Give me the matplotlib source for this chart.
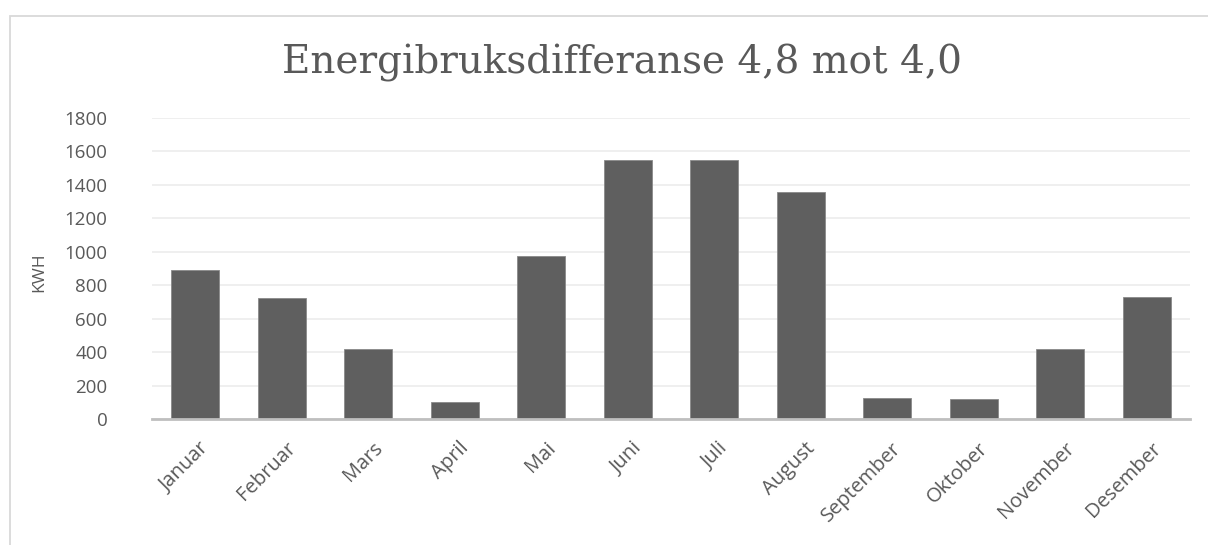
import matplotlib
matplotlib.use("Agg")
import matplotlib.pyplot as plt
from matplotlib.patches import Rectangle
from matplotlib.transforms import ScaledTranslation

months = ["Januar", "Februar", "Mars", "April", "Mai", "Juni", "Juli",
          "August", "September", "Oktober", "November", "Desember"]
kwh = [891, 724, 417, 102, 975, 1551, 1549, 1360, 124, 120, 417, 731]
yticks = [0, 200, 400, 600, 800, 1000, 1200, 1400, 1600, 1800]

W, H = 1208, 545
fig = plt.figure(figsize=(W / 100, H / 100), dpi=100)
fig.patch.set_facecolor("white")

# chart border
fig.patches.append(Rectangle((10 / W, -0.1), 1.2, (H - 16) / H + 0.1,
                             transform=fig.transFigure, fill=False,
                             edgecolor="#d9d9d9", linewidth=1.3))

left, right = 152 / W, 1190 / W
bottom, top = 1 - 419 / H, 1 - 118 / H
ax = fig.add_axes([left, bottom, right - left, top - bottom])

x = range(len(months))
ax.bar(x, kwh, width=0.55, color="#5f5f5f", edgecolor="#8a8a8a",
       linewidth=0.6, zorder=3)
ax.set_xlim(-0.5, len(months) - 0.5)
ax.set_ylim(0, 1800)
ax.set_yticks(yticks)
ax.set_yticklabels([str(v) for v in yticks], fontsize=13.5, color="#595959",
                   family="Open Sans")
ax.yaxis.grid(True, color="#ececec", linewidth=1.2, zorder=0)
ax.set_axisbelow(True)
ax.tick_params(axis="y", length=0, pad=32)
ax.tick_params(axis="x", length=0, pad=14)
ax.set_xticks(list(x))
ax.set_xticklabels(months, rotation=45, ha="right", rotation_mode="anchor",
                   fontsize=14.5, color="#595959", family="Open Sans")
off = ScaledTranslation(4 / 100, 0, fig.dpi_scale_trans)
for lbl in ax.get_xticklabels():
    lbl.set_transform(lbl.get_transform() + off)
for s in ["top", "right", "left"]:
    ax.spines[s].set_visible(False)
ax.spines["bottom"].set_color("#bfbfbf")
ax.spines["bottom"].set_linewidth(2)
ax.spines["bottom"].set_zorder(4)

fig.text(39 / W, 1 - 272 / H, "KWH", rotation=90, ha="center", va="center",
         fontsize=12.5, color="#595959", family="Open Sans")

fig.text(622 / W, 1 - 63 / H, "Energibruksdifferanse 4,8 mot 4,0",
         ha="center", va="center", fontsize=28, color="#595959",
         family="DejaVu Serif")

fig.savefig("out.png", dpi=100, facecolor="white")
